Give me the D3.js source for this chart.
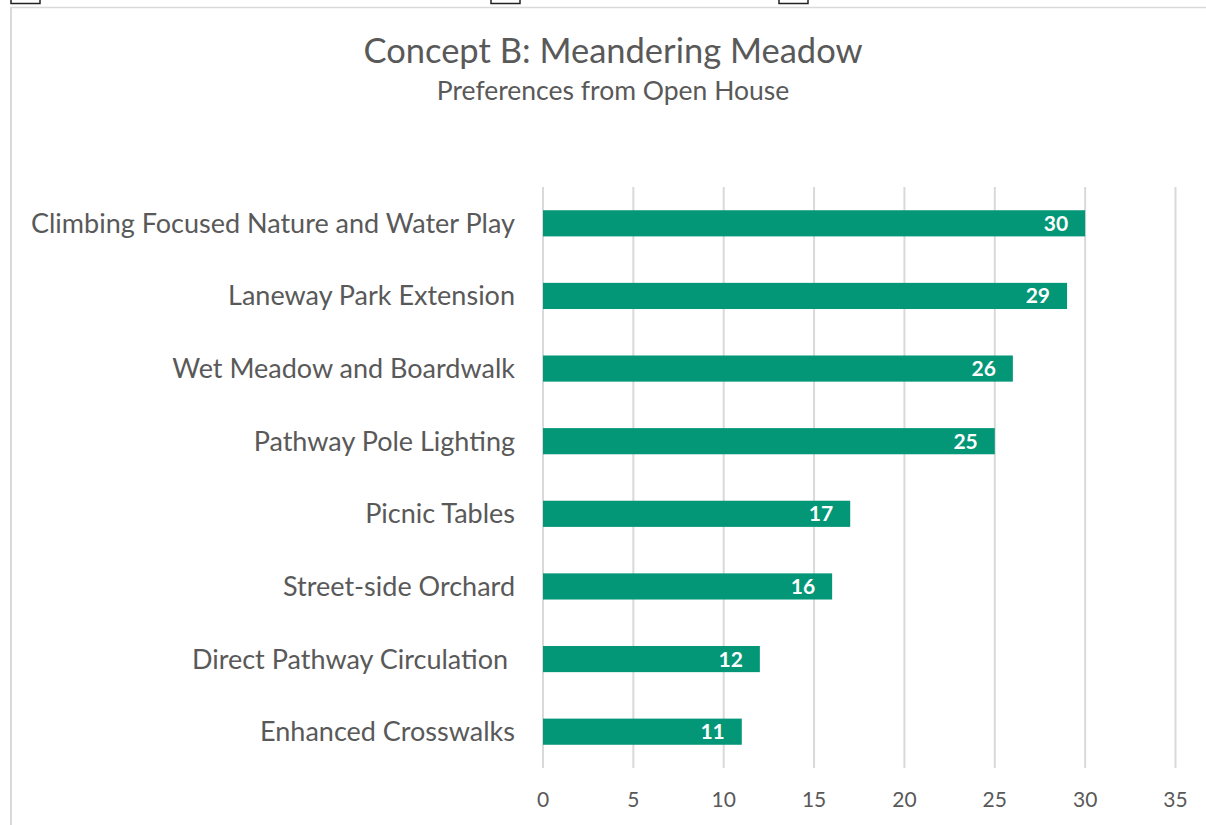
<html>
 <head>
  <title>Concept B: Meandering Meadow</title>
  <script src="https://d3js.org/d3.v7.min.js"></script>
  <style>
   body{margin:0;background:#fff;}
   text{font-family:Lato,"Open Sans",sans-serif;fill:#595959;white-space:pre;}
  </style>
 </head>
 <body>
  <svg></svg>
  <script>
    var svgWidth=1206,svgHeight=825;

    var categories=["Climbing Focused Nature and Water Play","Laneway Park Extension","Wet Meadow and Boardwalk",
                    "Pathway Pole Lighting","Picnic Tables","Street-side Orchard","Direct Pathway Circulation ","Enhanced Crosswalks"];
    var values=[30,29,26,25,17,16,12,11];
    var ticks=[0,5,10,15,20,25,30,35];

    var svg=d3.select("svg").attr("width",svgWidth).attr("height",svgHeight);

    // chart frame (cut off at the top like the screenshot)
    svg.append("line").attr("x1",10).attr("x2",svgWidth).attr("y1",7.5).attr("y2",7.5)
       .attr("stroke","#d9d9d9").attr("stroke-width",1.5);
    svg.append("line").attr("x1",11).attr("x2",11).attr("y1",7).attr("y2",svgHeight)
       .attr("stroke","#d9d9d9").attr("stroke-width",2);
    // selection handles
    [[11,0],[491,0],[779,0]].forEach(function(p){
      svg.append("rect").attr("x",p[0]).attr("y",-26).attr("width",29).attr("height",29.5)
         .attr("fill","#fff").attr("stroke","#222").attr("stroke-width",1.5);
    });

    svg.append("text").attr("x",613).attr("y",63).attr("text-anchor","middle")
       .style("font-size","34.5px").text("Concept B: Meandering Meadow");
    svg.append("text").attr("x",613).attr("y",100).attr("text-anchor","middle")
       .style("font-size","26.5px").text("Preferences from Open House");

    var x=d3.scaleLinear().domain([0,35]).range([543,1175.5]);
    var y=d3.scaleBand().domain(categories).range([187,768]).paddingInner(0.64).paddingOuter(0.32);

    var g=svg.append("g");

    g.selectAll(".grid").data(ticks).enter().append("line")
       .attr("x1",function(d){return x(d);}).attr("x2",function(d){return x(d);})
       .attr("y1",187).attr("y2",768).attr("stroke","#d9d9d9").attr("stroke-width",2);

    g.selectAll(".bar").data(values).enter().append("rect")
       .attr("x",x(0)).attr("y",function(d,i){return y(categories[i]);})
       .attr("width",function(d){return x(d)-x(0);}).attr("height",y.bandwidth())
       .attr("fill","#039677");

    g.selectAll(".val").data(values).enter().append("text")
       .attr("x",function(d){return x(d)-17;}).attr("y",function(d,i){return y(categories[i])+y.bandwidth()/2;})
       .attr("dy","0.36em").attr("text-anchor","end")
       .style("font-size","21px").style("font-weight","bold").style("fill","#fff")
       .text(function(d){return d;});

    g.selectAll(".cat").data(categories).enter().append("text")
       .attr("x",515).attr("y",function(d){return y(d)+y.bandwidth()/2;})
       .attr("dy","0.35em").attr("text-anchor","end")
       .style("font-size","27px").text(function(d){return d;});

    g.selectAll(".tick").data(ticks).enter().append("text")
       .attr("x",function(d){return x(d);}).attr("y",800)
       .attr("dy","0.35em").attr("text-anchor","middle")
       .style("font-size","21px").text(function(d){return d;});
  </script>
 </body>
</html>
